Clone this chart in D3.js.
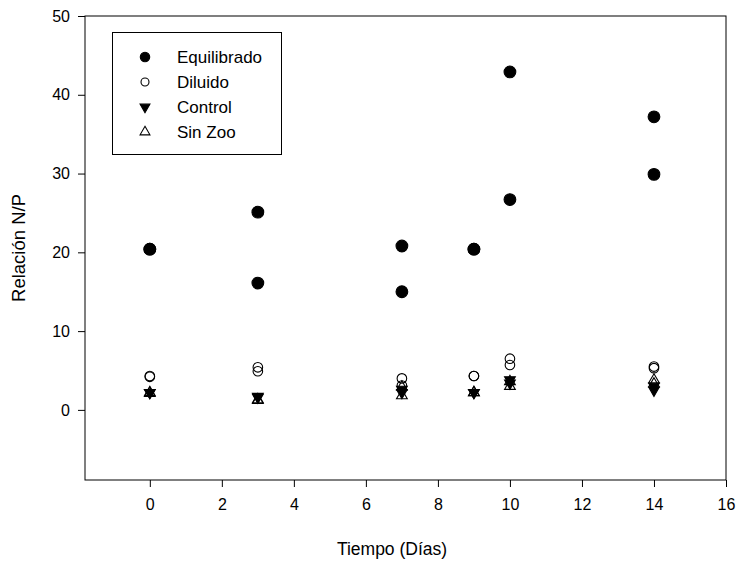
<!DOCTYPE html>
<html>
<head>
<meta charset="utf-8">
<script src="https://cdn.jsdelivr.net/npm/d3@7"></script>
<style>
  html, body { margin: 0; padding: 0; background: #fff; }
  svg { display: block; font-family: Arial, "Liberation Sans", sans-serif; }
</style>
</head>
<body>
<svg id="chart" width="740" height="562"></svg>
<script>
// Days of sampling (two replicates per day)
const dias = [0, 0, 3, 3, 7, 7, 9, 9, 10, 10, 14, 14];

// N/P ratio per treatment
const equilibrado = [20.4, 20.4, 25.1, 16.1, 20.8, 15.0, 20.4, 20.4, 42.9, 26.7, 37.2, 29.9];
const diluido     = [4.3, 4.2, 5.4, 4.9, 4.0, 3.1, 4.3, 4.3, 6.5, 5.7, 5.5, 5.3];
const control     = [2.2, 2.2, 1.7, 1.6, 2.6, 2.2, 2.2, 2.2, 3.8, 3.4, 2.5, 3.0];
const sinZoo      = [2.2, 2.1, 1.3, 1.2, 1.8, 2.9, 2.2, 2.2, 3.0, 3.6, 3.8, 3.3];

const seriesNames = ["Equilibrado", "Diluido", "Control", "Sin Zoo"];
const xTicks = [0, 2, 4, 6, 8, 10, 12, 14, 16];
const yTicks = [0, 10, 20, 30, 40, 50];

(function draw() {
  const svg = d3.select("#chart");
  const mLeft = 85, mRight = 726, mTop = 16, mBottom = 480;

  const x = d3.scaleLinear().domain([-1.8, 16]).range([mLeft, mRight]);
  const y = d3.scaleLinear().domain([-8.9, 50]).range([mBottom, mTop]);

  // Axes
  const xAxis = d3.axisBottom(x).tickValues(xTicks).tickSize(7).tickPadding(12).tickFormat(d3.format("d"));
  const yAxis = d3.axisLeft(y).tickValues(yTicks).tickSize(7).tickPadding(8).tickFormat(d3.format("d"));

  const gx = svg.append("g").attr("transform", `translate(0,${mBottom})`).call(xAxis);
  const gy = svg.append("g").attr("transform", `translate(${mLeft},0)`).call(yAxis);
  [gx, gy].forEach(g => {
    g.select(".domain").remove();
    g.selectAll(".tick line").attr("stroke", "#000").attr("stroke-width", 1);
    g.selectAll(".tick text").attr("fill", "#000").style("font-size", "16px");
  });

  // Plot frame
  svg.append("rect")
    .attr("x", mLeft).attr("y", mTop)
    .attr("width", mRight - mLeft).attr("height", mBottom - mTop)
    .attr("fill", "none").attr("stroke", "#000").attr("stroke-width", 1);

  // Axis titles
  svg.append("text")
    .attr("x", 392).attr("y", 555)
    .attr("text-anchor", "middle").style("font-size", "17.5px")
    .text("Tiempo (Días)");
  svg.append("text")
    .attr("transform", `translate(25,${(mTop + mBottom) / 2}) rotate(-90)`)
    .attr("text-anchor", "middle").style("font-size", "18.5px")
    .text("Relación N/P");

  // Marker styles
  const styles = {
    "Equilibrado": { type: d3.symbolCircle, size: 108, fill: "#000", stroke: "#000", rot: 0, legend: 70 },
    "Diluido":     { type: d3.symbolCircle, size: 72, fill: "none", stroke: "#000", rot: 0, legend: 50 },
    "Control":     { type: d3.symbolTriangle, size: 50, fill: "#000", stroke: "#000", rot: 180, legend: 42 },
    "Sin Zoo":     { type: d3.symbolTriangle, size: 50, fill: "none", stroke: "#000", rot: 0, legend: 42 }
  };
  const values = { "Equilibrado": equilibrado, "Diluido": diluido, "Control": control, "Sin Zoo": sinZoo };

  seriesNames.forEach(name => {
    const s = styles[name];
    const pts = dias.map((d, i) => ({ d, v: values[name][i] }));
    svg.append("g").selectAll("path").data(pts).join("path")
      .attr("d", d3.symbol().type(s.type).size(s.size))
      .attr("transform", p => `translate(${x(p.d)},${y(p.v)}) rotate(${s.rot})`)
      .attr("fill", s.fill).attr("stroke", s.stroke).attr("stroke-width", 1.1);
  });

  // Legend
  const lg = svg.append("g");
  lg.append("rect")
    .attr("x", 112.5).attr("y", 32.5).attr("width", 169).attr("height", 122)
    .attr("fill", "#fff").attr("stroke", "#000").attr("stroke-width", 1);
  seriesNames.forEach((name, i) => {
    const s = styles[name];
    const cy = 57 + i * 25;
    lg.append("path")
      .attr("d", d3.symbol().type(s.type).size(s.legend))
      .attr("transform", `translate(145,${cy}) rotate(${s.rot})`)
      .attr("fill", s.fill).attr("stroke", s.stroke).attr("stroke-width", 1.1);
    lg.append("text")
      .attr("x", 177).attr("y", cy).attr("dy", "0.36em")
      .style("font-size", "17px")
      .text(name);
  });
})();
</script>
</body>
</html>
